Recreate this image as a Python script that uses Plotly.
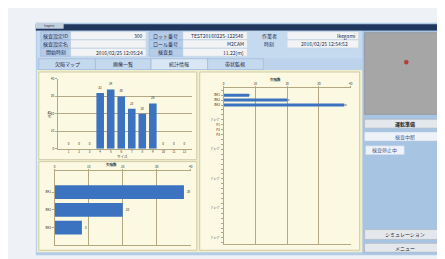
import plotly.graph_objects as go

W, H = 445, 259
FONT = "Noto Sans CJK JP"

# ---------------- data ----------------
hist_categories = ["1", "2", "3", "4", "5", "6", "7", "8", "9", "10", "11", "12"]
hist_counts = [0, 0, 0, 32, 34, 30, 23, 20, 26, 0, 0, 0]

type_labels = ["BK1", "BK2", "BK3"]
type_counts_bottom = [38, 20, 8]
type_counts_right = [8, 20, 38]
right_rows = [1, 2, 3]
right_tick_pos = [1, 2, 3, 6, 7, 8, 9, 12, 18, 24, 30]
right_tick_text = ["BK1", "BK2", "BK3", "ｸﾞﾙｰﾌﾟ", "P1", "P2", "P3", "ｸﾞﾙｰﾌﾟ", "ｸﾞﾙｰﾌﾟ", "ｸﾞﾙｰﾌﾟ", "ｸﾞﾙｰﾌﾟ"]

header_rows = [
    ("検査設定ID", "300", "ロット番号", "TEST20160225-122546", "作業者", "Ikegami"),
    ("検査設定名", "", "ロール番号", "M2CAM", "時刻", "2016/02/25 12:54:52"),
    ("開始時刻", "2016/02/25 12:05:24", "検査長", "11.22[m]", None, None),
]
tabs = ["欠陥マップ", "画像一覧", "統計情報", "帯状監視"]

# ---------------- helpers ----------------
shapes, annotations = [], []


def rect(x0, y0, x1, y1, fill, line=None, lw=0, layer="below"):
    shapes.append(dict(type="rect", xref="paper", yref="paper",
                       x0=x0 / W, x1=x1 / W, y0=1 - y1 / H, y1=1 - y0 / H,
                       fillcolor=fill, line=dict(color=line or fill, width=lw), layer=layer))


def txt(x, y, s, size=5, color="#1c2b4a", anchor="center"):
    annotations.append(dict(x=x / W, y=1 - y / H, xref="paper", yref="paper", text=s,
                            showarrow=False, xanchor=anchor, yanchor="middle",
                            font=dict(family=FONT, size=size, color=color), borderpad=0))


# background / window
rect(0, 0, W, H, "#eef2f6")
rect(27, 13, 442, 249, "#b3cce7")
rect(27, 14.5, 442, 21, "#22375e")
rect(27, 13, 55, 19, "#c3d0df")
txt(41, 16, "Inspect", size=3, color="#333")
rect(436, 15, 442, 19, "#b5504a")
rect(28, 21, 356, 61, "#c6daef")

# header rows
row_y = [(22, 30), (30.5, 38.5), (39, 47)]
for (y0, y1), r in zip(row_y, header_rows):
    l1, v1, l2, v2, l3, v3 = r
    rect(32, y0, 62, y1, "#b6cde9", "#90afd5", 0.5)
    txt(47, (y0 + y1) / 2, l1)
    rect(62, y0, 138, y1, "#f1f3f5", "#c3d0de", 0.5)
    if v1:
        txt(136, (y0 + y1) / 2, v1, anchor="right")
    rect(141, y0, 175, y1, "#b6cde9", "#90afd5", 0.5)
    txt(158, (y0 + y1) / 2, l2)
    rect(175, y0, 240, y1, "#f1f3f5", "#c3d0de", 0.5)
    txt(238, (y0 + y1) / 2, v2, anchor="right")
    if l3:
        txt(262, (y0 + y1) / 2, l3)
        rect(280, y0, 352, y1, "#f1f3f5", "#c3d0de", 0.5)
        if l3 == "作業者":
            txt(349, (y0 + y1) / 2, v3, anchor="right")
        else:
            txt(318, (y0 + y1) / 2, v3)

# tabs
tab_x = [(30, 87), (87, 143), (143, 200), (200, 256)]
rect(28, 49, 356, 61, "#bdd3ec")
for (x0, x1), t in zip(tab_x, tabs):
    fill = "#d9e7f5" if t == "統計情報" else "#c5d9ee"
    rect(x0, 49.5, x1, 60.5, fill, "#98b5d8", 0.6)
    txt((x0 + x1) / 2, 55, t)

# content panel
rect(28, 61, 356, 246, "#f1eecb")
rect(30, 63, 189, 152, "#fbf9e1", "#c8c1a0", 0.8)
rect(30, 154, 189, 244, "#fbf9e1", "#c8c1a0", 0.8)
rect(192, 63, 353, 244, "#fbf9e1", "#c8c1a0", 0.8)

# right panel
rect(356, 21, 442, 248, "#a7c4e3")
rect(358, 23, 441, 106, "#a6a6a6", "#8c8c8c", 0.6)
shapes.append(dict(type="circle", xref="paper", yref="paper",
                   x0=398 / W, x1=402 / W, y0=1 - 55 / H, y1=1 - 51 / H,
                   fillcolor="#c23a3a", line=dict(color="#a02a2a", width=0.5), layer="below"))
rect(358, 111, 440, 120, "#e4e7eb", "#aab2bc", 0.6)
txt(399, 115.5, "<b>運転準備</b>", color="#222")
rect(358, 124, 440, 133, "#eef3f9", "#c0cfe0", 0.5)
txt(399, 128.5, "検査中断", color="#3e5f8f")
rect(359, 138, 398, 147, "#eef3f9", "#c0cfe0", 0.5)
txt(378, 142.5, "検査停止中", color="#3e5f8f")
rect(358, 223, 440, 233, "#e4e7eb", "#aab2bc", 0.6)
txt(399, 228, "シミュレーション", color="#222")
rect(358, 237, 440, 246, "#e4e7eb", "#aab2bc", 0.6)
txt(399, 241.5, "メニュー", color="#222")

# chart titles
txt(41, 106, "件数", size=3.5, color="#333")
annotations[-1]["textangle"] = -90
txt(114, 149, "サイズ", size=3.5, color="#333")
txt(103, 157, "<b>欠陥数</b>", size=3.5, color="#333")
txt(268, 71, "<b>欠陥数</b>", size=3.5, color="#333")

BAR = "#3b73c0"
GRID = "#b4a783"
TICKF = dict(family=FONT, size=3, color="#333")

fig = go.Figure()
fig.add_trace(go.Bar(x=hist_categories, y=hist_counts, xaxis="x", yaxis="y",
                     marker=dict(color=BAR, line=dict(width=0)), width=0.72,
                     text=hist_counts, textposition="outside", textfont=TICKF, cliponaxis=False))
fig.add_trace(go.Bar(x=type_counts_bottom, y=type_labels, orientation="h", xaxis="x2", yaxis="y2",
                     marker=dict(color=BAR, line=dict(width=0)), width=0.78,
                     text=type_counts_bottom, textposition="outside", textfont=TICKF, cliponaxis=False))
fig.add_trace(go.Bar(x=type_counts_right, y=right_rows, orientation="h", xaxis="x3", yaxis="y3",
                     marker=dict(color=BAR, line=dict(width=0)), width=0.6,
                     text=type_counts_right, textposition="outside", textfont=TICKF, cliponaxis=False))

ax_common = dict(tickfont=TICKF, linecolor=GRID, gridcolor=GRID, zeroline=False, fixedrange=True)

fig.update_layout(
    width=W, height=H, autosize=False, margin=dict(l=0, r=0, t=0, b=0, pad=0),
    paper_bgcolor="#eef2f6", plot_bgcolor="rgba(0,0,0,0)", showlegend=False,
    shapes=shapes, annotations=annotations, font=dict(family=FONT),
    xaxis=dict(domain=[49 / W, 184 / W], anchor="y", type="category", range=[-1.04, 11.7],
               showline=True, showgrid=False, ticks="", ticklabelstandoff=0, **ax_common),
    yaxis=dict(domain=[1 - 141 / H, 1 - 70 / H], anchor="x", range=[0, 40], dtick=10,
               showline=True, showgrid=True, gridwidth=1, ticks="outside", ticklen=2,
               tickcolor=GRID, **ax_common),
    xaxis2=dict(domain=[46 / W, 183 / W], anchor="y2", side="top", range=[0, 40], dtick=10,
                showline=True, mirror=True, showgrid=True, gridwidth=1, ticks="outside",
                ticklen=1, tickcolor=GRID, ticklabelstandoff=0, **ax_common),
    yaxis2=dict(domain=[1 - 239 / H, 1 - 164 / H], anchor="x2", type="category",
                categoryarray=type_labels, range=[3.0, -1.17], showline=True, showgrid=False,
                ticks="outside", ticklen=2, tickcolor=GRID, **ax_common),
    xaxis3=dict(domain=[216 / W, 344 / W], anchor="y3", side="top", range=[0, 40], dtick=10,
                showline=True, mirror=True, showgrid=True, gridwidth=1, ticks="outside",
                ticklen=1, tickcolor=GRID, ticklabelstandoff=0, **ax_common),
    yaxis3=dict(domain=[1 - 238 / H, 1 - 79 / H], anchor="x3", range=[31.3, -0.5],
                tickmode="array", tickvals=right_tick_pos, ticktext=right_tick_text,
                showline=True, showgrid=False, ticks="outside", ticklen=2, tickcolor=GRID,
                minor=dict(dtick=1, tick0=0, ticks="outside", ticklen=1.5, tickcolor=GRID),
                **ax_common),
    bargap=0.2,
)

fig.write_html("out.html", config={"displayModeBar": False})
